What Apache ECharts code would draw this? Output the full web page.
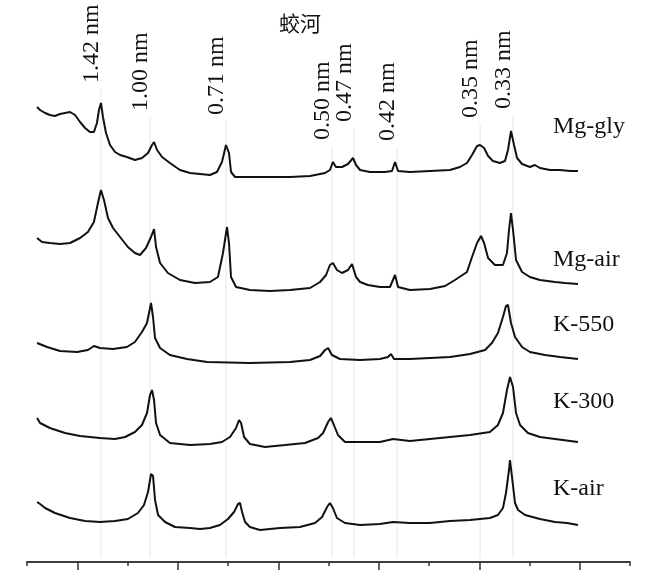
<!DOCTYPE html>
<html>
<head>
<meta charset="utf-8">
<title>蛟河</title>
<script src="https://cdn.jsdelivr.net/npm/echarts@6/dist/echarts.min.js"></script>
<style>
  html, body { margin: 0; padding: 0; background: #fff; }
  #chart { width: 654px; height: 581px; }
</style>
</head>
<body>
<div id="chart"></div>
<script>
// 2θ (deg) / stacked intensity
const mgGly = [[3.00,455],[3.15,452],[3.40,449],[3.64,447],[3.89,446],[4.14,448],[4.39,449],[4.64,450],[4.89,447],[5.14,440],[5.39,434],[5.63,430],[5.83,430],[5.98,439],[6.08,452],[6.18,459],[6.28,445],[6.43,429],[6.63,417],[6.88,410],[7.13,407],[7.47,405],[7.87,402],[8.22,404],[8.52,409],[8.72,417],[8.82,420],[8.97,412],[9.22,405],[9.61,399],[10.11,392],[10.61,389],[11.11,388],[11.60,387],[11.95,390],[12.20,400],[12.40,417],[12.55,409],[12.65,390],[12.85,385],[13.59,385],[14.59,385],[15.58,385],[16.58,386],[17.33,389],[17.57,392],[17.72,400],[17.87,395],[18.17,395],[18.47,398],[18.72,404],[18.87,397],[19.07,392],[19.56,390],[20.31,390],[20.66,391],[20.81,400],[20.96,391],[21.55,390],[22.55,391],[23.54,392],[24.04,395],[24.39,399],[24.64,407],[24.89,416],[25.04,417],[25.24,414],[25.44,406],[25.68,401],[26.03,399],[26.28,401],[26.43,412],[26.58,431],[26.73,417],[26.88,404],[27.13,398],[27.52,395],[27.77,397],[28.02,394],[28.52,392],[29.02,392],[29.52,391],[29.91,391]]
const mgAir = [[3.00,324],[3.25,320],[3.64,319],[4.14,318],[4.64,319],[5.14,324],[5.53,330],[5.83,340],[6.03,359],[6.18,372],[6.33,362],[6.53,344],[6.78,334],[7.13,325],[7.52,315],[7.87,309],[8.12,307],[8.42,314],[8.67,325],[8.82,333],[8.92,315],[9.12,299],[9.51,289],[10.11,282],[10.86,279],[11.60,280],[12.00,285],[12.25,309],[12.45,335],[12.55,319],[12.65,285],[12.90,275],[13.59,272],[14.59,271],[15.58,272],[16.58,274],[17.08,280],[17.38,287],[17.57,297],[17.72,299],[17.92,292],[18.17,289],[18.47,292],[18.67,298],[18.87,285],[19.07,280],[19.46,277],[20.06,275],[20.56,275],[20.81,287],[20.96,275],[21.55,272],[22.55,273],[23.30,276],[23.79,282],[24.39,290],[24.64,305],[24.89,319],[25.09,326],[25.24,319],[25.44,304],[25.78,297],[26.18,297],[26.38,309],[26.48,332],[26.58,349],[26.68,332],[26.83,302],[27.13,290],[27.52,285],[28.02,282],[28.77,280],[29.27,279],[29.91,278]]
const k550 = [[3.00,219],[3.50,215],[4.14,211],[4.99,210],[5.53,212],[5.83,216],[6.13,214],[6.78,213],[7.47,215],[7.87,220],[8.22,230],[8.47,239],[8.67,259],[8.77,245],[8.87,224],[9.12,214],[9.61,207],[10.46,203],[11.46,200],[13.59,199],[15.58,200],[16.58,202],[17.08,206],[17.33,212],[17.48,214],[17.67,207],[18.07,203],[19.07,202],[20.06,203],[20.46,205],[20.61,208],[20.76,203],[21.55,203],[22.55,204],[23.54,205],[24.54,208],[25.29,212],[25.63,219],[25.93,229],[26.18,245],[26.33,256],[26.43,257],[26.58,239],[26.78,225],[27.13,215],[27.52,210],[28.27,207],[29.02,205],[29.91,203]]
const k300 = [[3.00,144],[3.15,139],[3.64,134],[4.39,129],[5.14,126],[6.13,124],[6.88,123],[7.38,125],[7.87,130],[8.22,137],[8.47,149],[8.62,167],[8.72,172],[8.82,162],[8.92,139],[9.12,127],[9.61,119],[10.61,117],[11.60,118],[12.20,120],[12.60,125],[12.90,134],[13.05,142],[13.15,139],[13.30,125],[13.59,118],[14.34,115],[15.34,117],[16.33,119],[16.98,124],[17.23,129],[17.48,140],[17.62,144],[17.77,137],[17.97,127],[18.32,120],[19.07,120],[20.06,120],[20.71,123],[21.55,121],[22.55,123],[23.54,125],[24.54,127],[25.53,130],[25.93,137],[26.18,149],[26.38,172],[26.53,185],[26.68,175],[26.83,149],[27.03,137],[27.42,129],[28.02,125],[28.77,123],[29.91,120]]
const kAir = [[3.00,60],[3.15,58],[3.40,54],[3.89,49],[4.64,44],[5.39,41],[6.13,40],[6.88,41],[7.52,43],[8.02,49],[8.32,57],[8.52,70],[8.67,88],[8.77,86],[8.87,62],[9.02,47],[9.37,40],[9.86,35],[10.61,34],[11.11,33],[11.60,34],[12.10,37],[12.50,43],[12.80,50],[13.00,58],[13.10,59],[13.20,50],[13.35,40],[13.59,35],[14.09,32],[15.09,34],[16.08,35],[16.83,39],[17.18,45],[17.43,55],[17.57,59],[17.72,54],[17.92,44],[18.32,39],[19.07,37],[20.06,38],[20.71,40],[21.55,39],[22.55,39],[23.54,41],[24.54,42],[25.53,44],[25.93,47],[26.18,54],[26.33,69],[26.48,92],[26.53,102],[26.63,85],[26.78,59],[26.93,52],[27.28,47],[28.02,43],[28.77,40],[29.37,39],[29.91,37]]

const sampleNames = ['Mg-gly', 'Mg-air', 'K-550', 'K-300', 'K-air']
const sampleData = [mgGly, mgAir, k550, k300, kAir]
const nameX = 28.67
const nameY = [435, 302, 237, 160, 73]

// d-spacing labels and their 2θ positions
const peakLabels = ['1.42 nm', '1.00 nm', '0.71 nm', '0.50 nm', '0.47 nm', '0.42 nm', '0.35 nm', '0.33 nm']
const peakPos = [6.18, 8.62, 12.40, 17.67, 18.77, 20.91, 25.04, 26.68]
const labelBottom = [479, 451, 447, 422, 440, 421, 444, 453]

const majorTicks = [5, 10, 15, 20, 25, 30]
const minorTicks = [2.5, 7.5, 12.5, 17.5, 22.5, 27.5, 32.5]

const FONT = '"Liberation Serif", "Times New Roman", serif'

const chart = echarts.init(document.getElementById('chart'))

const lineSeries = sampleData.map((d, i) => ({
  name: sampleNames[i],
  type: 'line',
  data: d,
  showSymbol: false,
  symbol: 'none',
  lineStyle: { color: '#111', width: 2 },
  z: 3
}))

chart.setOption({
  animation: false,
  title: {
    text: '蛟河',
    left: 274,
    top: 8,
    textStyle: { fontFamily: 'Noto Sans CJK SC', fontSize: 21, fontWeight: 'normal', color: '#111' }
  },
  grid: { left: 27, right: 24, top: 12, bottom: 19 },
  xAxis: [
    {
      type: 'value', min: 2.5, max: 32.5,
      axisLine: { show: true, lineStyle: { color: '#333', width: 1.5 } },
      axisTick: { show: true, inside: false, length: 8, customValues: majorTicks, lineStyle: { color: '#333', width: 1.5 } },
      axisLabel: { show: false },
      splitLine: { show: false }
    },
    {
      type: 'value', min: 2.5, max: 32.5, position: 'bottom',
      axisLine: { show: true, lineStyle: { color: '#333', width: 1.5 } },
      axisTick: { show: true, inside: false, length: 4, customValues: minorTicks, lineStyle: { color: '#333', width: 1.5 } },
      axisLabel: { show: false },
      splitLine: { show: false }
    }
  ],
  yAxis: { type: 'value', min: 0, max: 550, show: false },
  series: [
    {
      type: 'custom',
      name: 'peaks',
      z: 1,
      data: peakPos.map((p, i) => [p, labelBottom[i]]),
      renderItem(params, api) {
        const top = api.coord([api.value(0), api.value(1) - 6])
        const bot = api.coord([api.value(0), 4])
        const anchor = api.coord([api.value(0), api.value(1)])
        return {
          type: 'group',
          children: [
            { type: 'line', shape: { x1: top[0], y1: top[1], x2: bot[0], y2: bot[1] }, style: { stroke: '#e6e6e6', lineWidth: 1 } },
            {
              type: 'text', x: anchor[0] - 9, y: anchor[1], rotation: Math.PI / 2,
              style: { text: peakLabels[params.dataIndex], fontFamily: FONT, fontSize: 24, fill: '#111', align: 'left', verticalAlign: 'middle' }
            }
          ]
        }
      }
    },
    {
      type: 'custom',
      name: 'names',
      z: 2,
      data: nameY.map(y => [nameX, y]),
      renderItem(params, api) {
        const p = api.coord([api.value(0), api.value(1)])
        return {
          type: 'text', x: p[0], y: p[1],
          style: { text: sampleNames[params.dataIndex], fontFamily: FONT, fontSize: 24, fill: '#111', align: 'left', verticalAlign: 'middle' }
        }
      }
    },
    ...lineSeries
  ]
})
</script>
</body>
</html>
